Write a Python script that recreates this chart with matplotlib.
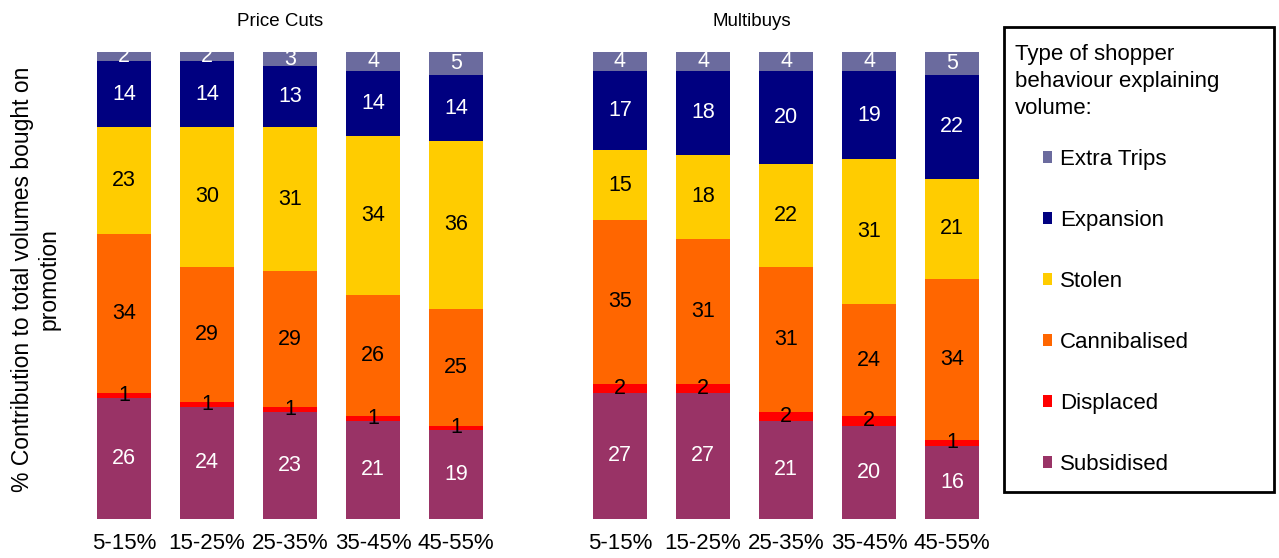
import numpy as np
import matplotlib
matplotlib.use("Agg")
import matplotlib.pyplot as plt
from matplotlib.patches import Patch, Rectangle

plt.rcParams['font.family'] = ['Liberation Sans', 'DejaVu Sans']

categories = ['5-15%', '15-25%', '25-35%', '35-45%', '45-55%']
segments = ['Subsidised', 'Displaced', 'Cannibalised', 'Stolen', 'Expansion', 'Extra Trips']
colors = ['#993366', '#FF0000', '#FF6600', '#FFCC00', '#000080', '#6B6B9E']
label_colors = ['white', 'black', 'black', 'black', 'white', 'white']

# price cuts, bottom to top
pc_subsidised = [26, 24, 23, 21, 19]
pc_displaced = [1, 1, 1, 1, 1]
pc_cannibalised = [34, 29, 29, 26, 25]
pc_stolen = [23, 30, 31, 34, 36]
pc_expansion = [14, 14, 13, 14, 14]
pc_extra = [2, 2, 3, 4, 5]

mb_subsidised = [27, 27, 21, 20, 15.6]
mb_displaced = [2, 2, 2, 2, 1.4]
mb_cannibalised = [35, 31, 31, 24, 34.4]
mb_stolen = [15, 18, 22, 31, 21.4]
mb_expansion = [17, 18, 20, 19, 22.3]
mb_extra = [4, 4, 4, 4, 4.9]

price_cuts = [pc_subsidised, pc_displaced, pc_cannibalised, pc_stolen, pc_expansion, pc_extra]
multibuys = [mb_subsidised, mb_displaced, mb_cannibalised, mb_stolen, mb_expansion, mb_extra]

fig = plt.figure(figsize=(12.79, 5.58), dpi=100)
ax1 = fig.add_axes([0.0645, 0.0699, 0.3245, 0.8369])
ax2 = fig.add_axes([0.4523, 0.0699, 0.3245, 0.8369])

x = np.arange(len(categories))
for ax, data in [(ax1, price_cuts), (ax2, multibuys)]:
    bottom = np.zeros(len(categories))
    for vals, col, lc in zip(data, colors, label_colors):
        vals = np.array(vals, dtype=float)
        bars = ax.bar(x, vals, 0.66, bottom=bottom, color=col)
        ax.bar_label(bars, fmt='%.0f', label_type='center', color=lc, fontsize=15.5)
        bottom += vals
    ax.set_xlim(-0.5, 4.5)
    ax.set_ylim(0, 100)
    ax.set_xticks(x)
    ax.set_xticklabels(categories, fontsize=16)
    ax.tick_params(axis='x', length=0, pad=10)
    ax.set_yticks([])
    for s in ax.spines.values():
        s.set_visible(False)

fig.text(280 / 1279, 0.9606, 'Price Cuts', ha='center', va='center', fontsize=13.5)
fig.text(752 / 1279, 0.9606, 'Multibuys', ha='center', va='center', fontsize=13.5)
fig.text(36 / 1279, 1 - 279 / 558, '% Contribution to total volumes bought on\npromotion',
         rotation=90, ha='center', va='center', multialignment='center', fontsize=16.5)

# legend box
fig.patches.append(Rectangle((1004 / 1279, 1 - 492 / 558), 270 / 1279, 465 / 558,
                             transform=fig.transFigure, fill=False, edgecolor='black',
                             linewidth=2))
fig.text(1015 / 1279, 1 - 44 / 558, 'Type of shopper\nbehaviour explaining\nvolume:',
         ha='left', va='top', fontsize=16, linespacing=1.37)
handles = [Patch(facecolor=c, label=s) for s, c in zip(segments, colors)][::-1]
fig.legend(handles=handles, loc='upper left', bbox_to_anchor=(1043 / 1279, 1 - 149 / 558),
           frameon=False, fontsize=16, handlelength=0.42, handleheight=0.42,
           handletextpad=0.36, labelspacing=1.8, borderpad=0, borderaxespad=0)

plt.savefig('out.png', dpi=100)
